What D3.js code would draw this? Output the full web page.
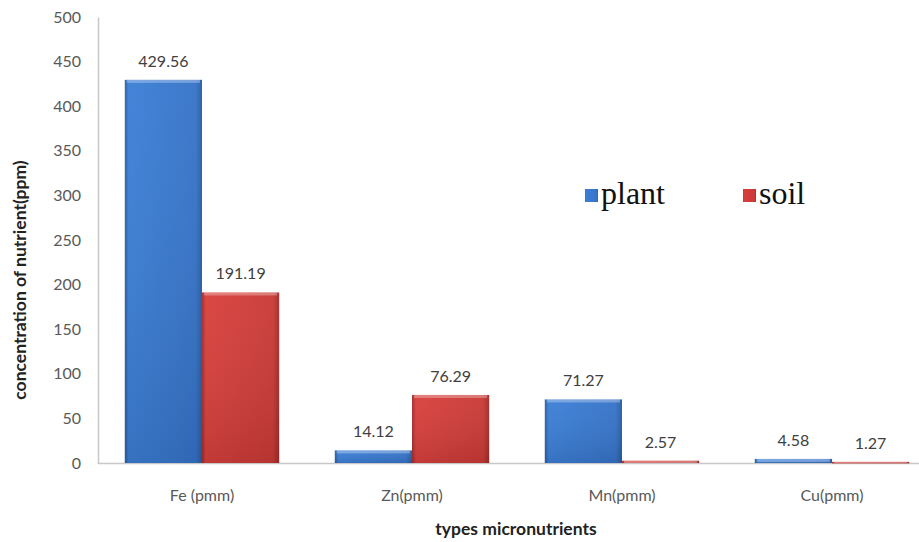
<!DOCTYPE html>
<html><head><meta charset="utf-8">
<script src="https://cdn.jsdelivr.net/npm/d3@7"></script>
<style>body{margin:0;background:#fff}svg{display:block}</style>
</head><body>
<svg id="c" width="919" height="542"></svg>
<script>
const categories = ["Fe (pmm)", "Zn(pmm)", "Mn(pmm)", "Cu(pmm)"];
const seriesNames = ["plant", "soil"];
const plantValues = [429.56, 14.12, 71.27, 4.58];
const soilValues = [191.19, 76.29, 2.57, 1.27];
const plantLabels = ["429.56", "14.12", "71.27", "4.58"];
const soilLabels = ["191.19", "76.29", "2.57", "1.27"];
const yTicks = [0, 50, 100, 150, 200, 250, 300, 350, 400, 450, 500];

const FONT = "Lato, 'Open Sans', sans-serif";
const svg = d3.select("#c");
const defs = svg.append("defs");
function grad(id, c1, c2, c3) {
  const g = defs.append("linearGradient").attr("id", id).attr("x1", 0).attr("x2", 1).attr("y1", 0).attr("y2", 0);
  g.append("stop").attr("offset", "0%").attr("stop-color", c3);
  g.append("stop").attr("offset", "5%").attr("stop-color", c1);
  g.append("stop").attr("offset", "92%").attr("stop-color", c2);
  g.append("stop").attr("offset", "100%").attr("stop-color", c3);
}
grad("gPlant", "#3c7fd6", "#3673c8", "#2a5ca2");
grad("gSoil", "#d8403c", "#c93a36", "#a02c2a");
const vg = defs.append("linearGradient").attr("id", "gShade").attr("x1", 0).attr("x2", 0).attr("y1", 0).attr("y2", 1);
vg.append("stop").attr("offset", "0%").attr("stop-color", "#fff").attr("stop-opacity", 0.04);
vg.append("stop").attr("offset", "100%").attr("stop-color", "#000").attr("stop-opacity", 0.1);

const y = d3.scaleLinear().domain([0, 500]).range([463, 17]);
const x0 = d3.scaleBand().domain(categories).range([97, 937]).paddingInner(0).paddingOuter(0);
const x1 = d3.scaleBand().domain(seriesNames).range([0, x0.bandwidth()]).paddingOuter(0.36).paddingInner(0);

// y axis
const yAxis = d3.axisLeft(y).tickValues(yTicks).tickSize(0).tickPadding(17);
const ya = svg.append("g").attr("transform", "translate(98,0)").call(yAxis);
ya.select(".domain").attr("stroke", "#c8c8c8").attr("stroke-width", 1.5);
ya.selectAll("text").attr("font-family", FONT).attr("font-size", 16).attr("fill", "#595959");

// x axis
const xAxis = d3.axisBottom(x0).tickSize(0).tickPadding(27);
const xa = svg.append("g").attr("transform", "translate(0,463)").call(xAxis);
xa.select(".domain").attr("stroke", "#c8c8c8").attr("stroke-width", 1.5);
xa.selectAll("text").attr("font-family", FONT).attr("font-size", 16).attr("fill", "#595959");

const data = categories.map((c, i) => ({cat: c, vals: [
  {s: "plant", v: plantValues[i], l: plantLabels[i]},
  {s: "soil", v: soilValues[i], l: soilLabels[i]}]}));

const groups = svg.append("g").selectAll("g").data(data).join("g")
  .attr("transform", d => `translate(${x0(d.cat)},0)`);
const bars = groups.selectAll("g").data(d => d.vals).join("g");
bars.append("rect")
  .attr("x", d => x1(d.s)).attr("width", x1.bandwidth())
  .attr("y", d => y(d.v)).attr("height", d => Math.max(1.5, y(0) - y(d.v)))
  .attr("fill", d => d.s === "plant" ? "url(#gPlant)" : "url(#gSoil)");
bars.append("rect")
  .attr("x", d => x1(d.s)).attr("width", x1.bandwidth())
  .attr("y", d => y(d.v)).attr("height", d => Math.max(1.5, y(0) - y(d.v)))
  .attr("fill", "url(#gShade)");
bars.append("rect")
  .attr("x", d => x1(d.s) + 2).attr("width", x1.bandwidth() - 4)
  .attr("y", d => y(d.v)).attr("height", d => Math.min(3, Math.max(1, y(0) - y(d.v))))
  .attr("fill", "#fff").attr("opacity", 0.3);
bars.append("text")
  .attr("x", d => x1(d.s) + x1.bandwidth() / 2)
  .attr("y", d => y(d.v) - 13)
  .attr("text-anchor", "middle")
  .attr("font-family", FONT).attr("font-size", 16).attr("fill", "#404040")
  .text(d => d.l);

// axis titles
svg.append("text").attr("transform", "translate(26,280) rotate(-90)").attr("text-anchor", "middle")
  .attr("font-family", FONT).attr("font-weight", "bold").attr("font-size", 17.5).attr("fill", "#222")
  .text("concentration of nutrient(ppm)");
svg.append("text").attr("x", 516).attr("y", 535).attr("text-anchor", "middle")
  .attr("font-family", FONT).attr("font-weight", "bold").attr("font-size", 17.5).attr("fill", "#222")
  .text("types micronutrients");

// legend
const legendX = [585, 743];
const lg = svg.append("g").selectAll("g").data(seriesNames).join("g")
  .attr("transform", (d, i) => `translate(${legendX[i]},189)`);
lg.append("rect").attr("width", 13).attr("height", 13)
  .attr("fill", d => d === "plant" ? "url(#gPlant)" : "url(#gSoil)");
lg.append("text").attr("x", 16).attr("y", 15)
  .attr("font-family", "'Liberation Serif', 'Times New Roman', serif").attr("font-size", 32).attr("fill", "#111")
  .text(d => d);
</script>
</body></html>
